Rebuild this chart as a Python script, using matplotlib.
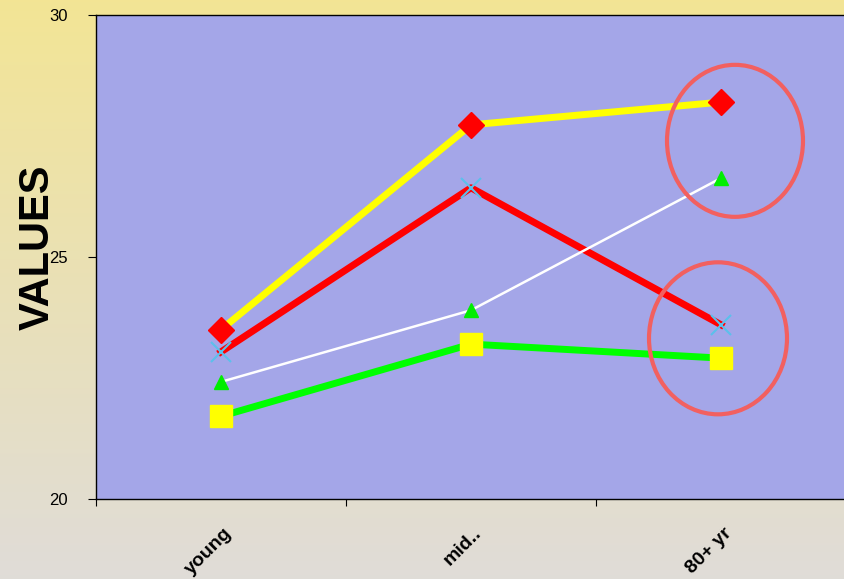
import numpy as np
import matplotlib.pyplot as plt
from matplotlib.patches import Ellipse
from matplotlib import transforms

plt.rcParams['font.family'] = ['Liberation Sans', 'DejaVu Sans']

categories = ['young', 'mid..', '80+ yr']
yellow_diamond = [23.5, 27.73, 28.2]
red_cross = [23.04, 26.43, 23.6]
white_triangle = [22.42, 23.9, 26.63]
green_square = [21.71, 23.2, 22.91]

fig = plt.figure(figsize=(8.44, 5.79), dpi=100)

# vertical gradient behind everything
bg = fig.add_axes([0, 0, 1, 1], zorder=-1)
top = np.array([0.953, 0.898, 0.584])
bottom = np.array([0.878, 0.863, 0.847])
t = np.linspace(0, 1, 256)[:, None]
grad = (top * (1 - t) + bottom * t)[:, None, :]
bg.imshow(np.repeat(grad, 2, axis=1), aspect='auto', extent=[0, 1, 0, 1])
bg.axis('off')

ax = fig.add_axes([96 / 844, 80 / 579, 750 / 844, 484 / 579])
ax.set_facecolor('#a4a6e8')
x = np.arange(len(categories))

ax.plot(x, yellow_diamond, color='#ffff00', lw=5, marker='D', ms=13,
        mfc='#ff0000', mec='#ff0000', zorder=3)
ax.plot(x, red_cross, color='#ff0000', lw=5, marker='x', ms=15,
        mec='#5bc0eb', mew=1.5, zorder=3)
ax.plot(x, white_triangle, color='white', lw=1.8, marker='^', ms=10,
        mfc='#00ee00', mec='#00ee00', zorder=3)
ax.plot(x, green_square, color='#00ff00', lw=5, marker='s', ms=16,
        mfc='#ffff00', mec='#ffff00', zorder=3)

ax.set_xlim(-0.5, 2.5)
ax.set_ylim(20, 30)
ax.set_yticks([20, 25, 30])
ax.tick_params(axis='y', direction='out', length=6, labelsize=12, pad=14)
ax.set_xticks([-0.5, 0.5, 1.5, 2.5])
ax.set_xticklabels([])
ax.tick_params(axis='x', direction='out', length=5)
for s in ax.spines.values():
    s.set_color('black')
    s.set_linewidth(1)

# rotated category labels
offset = transforms.ScaledTranslation(8 / 100, -32 / 100, fig.dpi_scale_trans)
trans = transforms.blended_transform_factory(ax.transData, ax.transAxes) + offset
for i, c in enumerate(categories):
    ax.text(i, 0, c, transform=trans, rotation=45, ha='right', va='center',
            rotation_mode='anchor', fontsize=14, fontweight='bold')

fig.text(37.5 / 844, 1 - 247.5 / 579, 'VALUES', rotation=90, ha='center',
         va='center', fontsize=30, fontweight='bold')

# highlight circles
ax.add_patch(Ellipse((2.056, 27.4), 136 / 250, 152 / 48.4, fill=False,
                     ec='#f26060', lw=3, zorder=4))
ax.add_patch(Ellipse((1.988, 23.32), 138 / 250, 152 / 48.4, fill=False,
                     ec='#f26060', lw=3, zorder=4))

fig.savefig('out.png', dpi=100)
